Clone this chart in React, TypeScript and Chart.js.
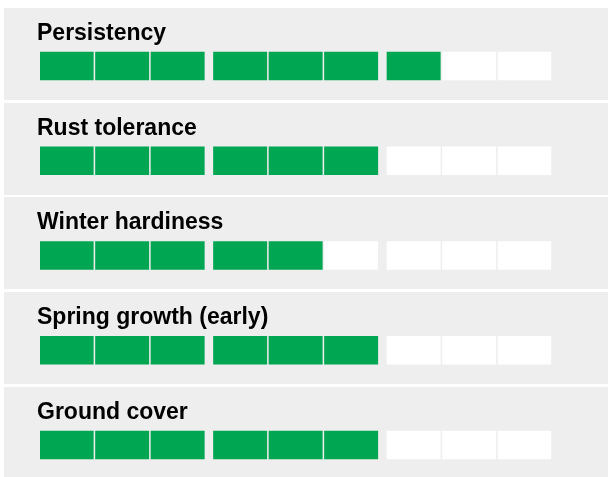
import React, { useEffect, useRef } from "react";
import { Chart, registerables } from "chart.js";

Chart.register(...registerables);

// ---- data ----
const traits = [
  "Persistency",
  "Rust tolerance",
  "Winter hardiness",
  "Spring growth (early)",
  "Ground cover",
];
const ratings = [7, 6, 5, 6, 6];
const maxRating = 9;
const groupSize = 3;

// ---- styles ----
const GREEN = "#00a651";
const EMPTY = "#ffffff";
const PANEL = "#eeeeee";
const SLOT_PX = 55.5;
const GROUP_GAP_PX = 7;
const SEG_PX = 53.3;
const CANVAS_W = 608;
const CANVAS_H = 493;

const groupGap = GROUP_GAP_PX / SLOT_PX;
const segW = SEG_PX / SLOT_PX;
const slotStart = (j: number) => j + Math.floor(j / groupSize) * groupGap;
const xMax = slotStart(maxRating - 1) + segW;

const panelPlugin = {
  id: "panels",
  beforeDatasetsDraw(chart: any) {
    const { ctx } = chart;
    const y = chart.scales.y;
    ctx.save();
    traits.forEach((t, i) => {
      const c = Math.round(y.getPixelForValue(i));
      const top = c - 58;
      ctx.fillStyle = PANEL;
      ctx.fillRect(4, top, chart.width - 4, 92);
      ctx.fillStyle = "#000000";
      ctx.font = 'bold 23px "Liberation Sans", Arial, sans-serif';
      ctx.textBaseline = "alphabetic";
      ctx.textAlign = "left";
      ctx.fillText(t, 37, top + 32);
    });
    ctx.restore();
  },
};

export default function App() {
  const ref = useRef<HTMLCanvasElement | null>(null);

  useEffect(() => {
    if (!ref.current) return;
    const datasets = Array.from({ length: maxRating }, (_, j) => ({
      label: `Slot ${j + 1}`,
      data: traits.map(() => [slotStart(j), slotStart(j) + segW]),
      backgroundColor: traits.map((_, i) => (j < ratings[i] ? GREEN : EMPTY)),
      borderWidth: 0,
      grouped: false,
      barThickness: 28,
    }));
    const chart = new Chart(ref.current, {
      type: "bar",
      data: { labels: traits, datasets: datasets as any },
      options: {
        indexAxis: "y",
        responsive: false,
        animation: false,
        layout: {
          padding: {
            left: 40,
            right: CANVAS_W - 40 - xMax * SLOT_PX,
            top: 18.6,
            bottom: CANVAS_H - 18.6 - 5 * 94.75,
          },
        },
        plugins: {
          legend: { display: false },
          tooltip: { enabled: false },
        },
        scales: {
          x: { type: "linear", min: 0, max: xMax, display: false },
          y: { type: "category", display: false },
        },
      },
      plugins: [panelPlugin],
    });
    return () => chart.destroy();
  }, []);

  return (
    <div
      style={{
        position: "fixed",
        left: 0,
        top: 0,
        width: CANVAS_W,
        height: 477,
        overflow: "hidden",
        background: "#ffffff",
      }}
    >
      <canvas
        ref={ref}
        width={CANVAS_W}
        height={CANVAS_H}
        style={{ display: "block", width: CANVAS_W, height: CANVAS_H }}
      />
    </div>
  );
}
